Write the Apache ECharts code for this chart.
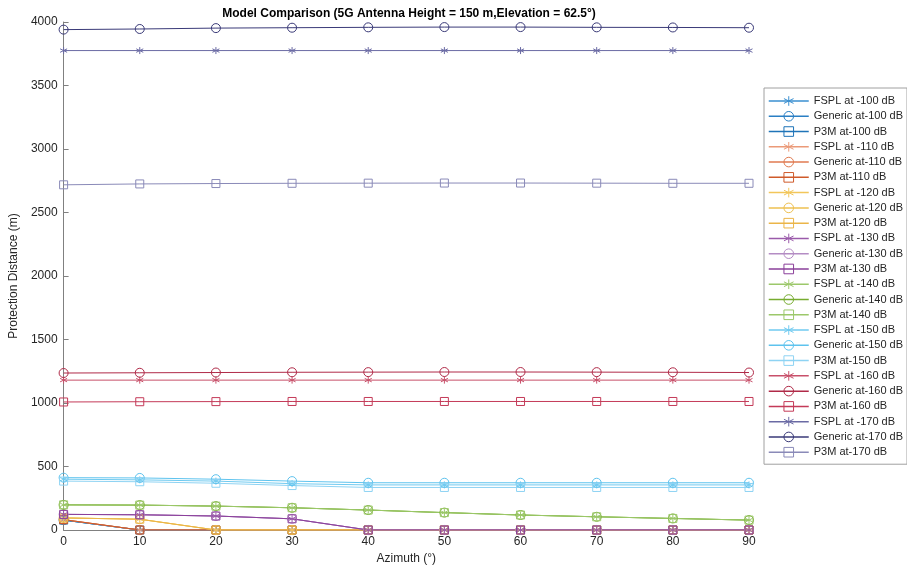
<!DOCTYPE html>
<html><head><meta charset="utf-8">
<script src="https://cdn.jsdelivr.net/npm/echarts@6/dist/echarts.min.js"></script>
<style>html,body{margin:0;padding:0;background:#fff}#c{width:907px;height:572px}</style>
</head><body><div id="c"></div>
<script>
const azimuth = [0,10,20,30,40,50,60,70,80,90];
const fspl100 = [78,0,0,0,0,0,0,0,0,0];
const gen100  = [78,0,0,0,0,0,0,0,0,0];
const p3m100  = [78,0,0,0,0,0,0,0,0,0];
const fspl110 = [82,0,0,0,0,0,0,0,0,0];
const gen110  = [82,0,0,0,0,0,0,0,0,0];
const p3m110  = [82,0,0,0,0,0,0,0,0,0];
const fspl120 = [95,85,0,0,0,0,0,0,0,0];
const gen120  = [95,85,0,0,0,0,0,0,0,0];
const p3m120  = [95,85,0,0,0,0,0,0,0,0];
const fspl130 = [123,120,110,88,0,0,0,0,0,0];
const gen130  = [123,120,110,88,0,0,0,0,0,0];
const p3m130  = [123,120,110,88,0,0,0,0,0,0];
const fspl140 = [198,196,188,175,157,137,118,104,91,78];
const gen140  = [198,196,188,175,157,137,118,104,91,78];
const p3m140  = [198,196,188,175,157,137,118,104,91,78];
const fspl150 = [400,395,385,365,355,355,355,355,355,355];
const gen150  = [412,410,400,385,372,372,372,372,372,372];
const p3m150  = [385,380,368,350,335,335,335,335,335,335];
const fspl160 = [1180,1180,1180,1180,1180,1180,1180,1180,1180,1180];
const gen160  = [1236,1238,1240,1242,1243,1244,1244,1243,1242,1240];
const p3m160  = [1008,1010,1011,1012,1012,1012,1012,1012,1012,1012];
const fspl170 = [3775,3775,3775,3775,3775,3775,3775,3775,3775,3775];
const gen170  = [3940,3945,3952,3955,3958,3960,3960,3958,3957,3955];
const p3m170  = [2718,2725,2728,2730,2731,2732,2732,2731,2730,2730];
const yTicks = [0,500,1000,1500,2000,2500,3000,3500,4000];

const STAR = 'path://M0,-5L0,5M-4.33,-2.5L4.33,2.5M-4.33,2.5L4.33,-2.5';
const groups = [
  {lvl:'-100', c:['#3a8fd0','#2a7fc4','#1f74b8'], d:[fspl100,gen100,p3m100]},
  {lvl:'-110', c:['#eb9a78','#e07a50','#cf5a2a'], d:[fspl110,gen110,p3m110]},
  {lvl:'-120', c:['#f2c65a','#eec050','#ebb548'], d:[fspl120,gen120,p3m120]},
  {lvl:'-130', c:['#9a5aaa','#b48cc4','#8a3f9a'], d:[fspl130,gen130,p3m130]},
  {lvl:'-140', c:['#9cc86a','#77ac30','#9cc86a'], d:[fspl140,gen140,p3m140]},
  {lvl:'-150', c:['#6fcaf0','#5ec3ee','#8ed3f3'], d:[fspl150,gen150,p3m150]},
  {lvl:'-160', c:['#c8506a','#b02a48','#c43a58'], d:[fspl160,gen160,p3m160]},
  {lvl:'-170', c:['#6a6aa4','#3a3a78','#8a8ab8'], d:[fspl170,gen170,p3m170]}
];
const series = [];
const legendData = [];
groups.forEach(g => {
  const names = ['FSPL at '+g.lvl+' dB','Generic at'+g.lvl+' dB','P3M at'+g.lvl+' dB'];
  const syms = [STAR,'circle','rect'];
  const sizes = [7,9,8];
  for (let k=0;k<3;k++) {
    series.push({
      name: names[k], type:'line', symbol: syms[k], symbolSize: sizes[k],
      showAllSymbol: true,
      data: azimuth.map((a,i)=>[a, g.d[k][i]]),
      lineStyle:{color:g.c[k], width:1},
      itemStyle:{color:'rgba(255,255,255,0)', borderColor:g.c[k], borderWidth:1},
      emphasis:{disabled:true}, animation:false
    });
    legendData.push({name:names[k],
      itemStyle:{color:'rgba(255,255,255,0)', borderColor:g.c[k], borderWidth:1},
      lineStyle:{color:g.c[k], width:1.5}});
  }
});

const chart = echarts.init(document.getElementById('c'));
chart.setOption({
  animation:false,
  backgroundColor:'#fff',
  textStyle:{fontFamily:'Liberation Sans, Arial, sans-serif'},
  title:{text:'Model Comparison (5G Antenna Height = 150 m,Elevation = 62.5°)', left:404, textAlign:'center', top:3,
    textStyle:{fontSize:12, fontWeight:'bold', color:'#000', fontFamily:'Liberation Sans, Arial, sans-serif'}},
  grid:{left:60, right:158, top:22, bottom:42, containLabel:false},
  legend:{orient:'vertical', left:764, top:88, padding:[7,4,6,4], itemWidth:40, itemHeight:12, itemGap:3.27,
    borderColor:'#a0a0a0', borderWidth:1, backgroundColor:'#fff',
    textStyle:{fontSize:11, color:'#262626', lineHeight:12, fontFamily:'Liberation Sans, Arial, sans-serif'},
    data: legendData},
  xAxis:{type:'value', min:0, max:90, interval:10,
    name:'Azimuth (°)', nameLocation:'middle', nameGap:20,
    nameTextStyle:{fontSize:12, color:'#262626'},
    axisLine:{lineStyle:{color:'#808080'}}, axisTick:{inside:true, length:5, lineStyle:{color:'#808080'}},
    axisLabel:{fontSize:12, color:'#262626', margin:6}, splitLine:{show:false}},
  yAxis:{type:'value', min:0, max:4000, interval:500,
    name:'Protection Distance (m)', nameLocation:'middle', nameGap:37,
    nameTextStyle:{fontSize:12, color:'#262626'},
    axisLine:{show:true, lineStyle:{color:'#808080'}}, axisTick:{show:true, inside:true, length:5, lineStyle:{color:'#808080'}},
    axisLabel:{fontSize:12, color:'#262626', margin:6, formatter:v=>yTicks.includes(v)?String(v):''}, splitLine:{show:false}},
  series: series
});
</script></body></html>
